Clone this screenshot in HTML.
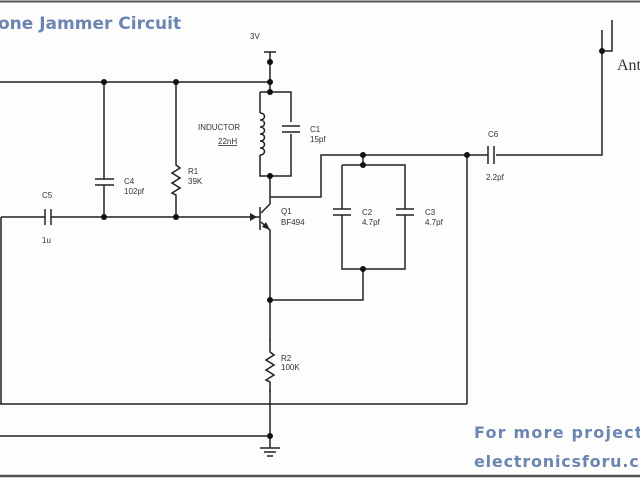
<!DOCTYPE html>
<html><head><style>
body{margin:0;background:#fdfdfb;}
svg{display:block}
.t{font-family:"Liberation Sans",sans-serif;font-size:8px;fill:#333}
.b{font-family:"DejaVu Sans",sans-serif;font-weight:bold;fill:#6b86b3}
</style></head><body>
<svg width="640" height="480" viewBox="0 0 640 480">
<rect width="640" height="480" fill="#fdfdfb"/>
<line x1="0" y1="1.5" x2="640" y2="1.5" stroke="#555" stroke-width="2"/>
<line x1="0" y1="476" x2="640" y2="476" stroke="#555" stroke-width="2.5"/>
<text class="b" x="-2" y="29" font-size="17">one Jammer Circuit</text>
<text class="b" x="474" y="438" font-size="16" letter-spacing="1.2">For more project</text>
<text class="b" x="474" y="467" font-size="16" letter-spacing="0.8">electronicsforu.co</text>
<g stroke="#222" stroke-width="1.5" fill="none">
<line x1="0" y1="82" x2="270" y2="82"/>
<line x1="1" y1="217" x2="1" y2="404"/>
<line x1="0" y1="404" x2="467" y2="404"/>
<line x1="467" y1="404" x2="467" y2="155"/>
<line x1="0" y1="436" x2="270" y2="436"/>
<line x1="1" y1="217" x2="45" y2="217"/>
<line x1="51" y1="217" x2="250" y2="217"/>
<line x1="45" y1="209" x2="45" y2="225"/>
<line x1="51" y1="209" x2="51" y2="225"/>
<line x1="104" y1="82" x2="104" y2="179"/>
<line x1="104" y1="185" x2="104" y2="217"/>
<line x1="95" y1="179" x2="114" y2="179"/>
<line x1="95" y1="185" x2="114" y2="185"/>
<path d="M176 82V165l4 3-8 5 8 5-8 5 8 5-8 5 4 2V217"/>
<path d="M250 217H260"/>
<path d="M260 207V230"/>
<path d="M261 213L270 204V176"/>
<path d="M261 222L270 230V436"/>
<line x1="264" y1="52" x2="276" y2="52"/>
<line x1="270" y1="52" x2="270" y2="92"/>
<path d="M260 92H291V122M291 134V176H260V155M260 113V92"/>
<path d="M260 113c6 0 6 7 0 7c6 0 6 7 0 7c6 0 6 7 0 7c6 0 6 7 0 7c6 0 6 7 0 7c6 0 6 7 0 7"/>
<line x1="282" y1="126" x2="300" y2="126"/>
<line x1="282" y1="132" x2="300" y2="132"/>
<path d="M270 197H321V155H488"/>
<path d="M496 155H602V30"/>
<line x1="488" y1="146" x2="488" y2="164"/>
<line x1="494" y1="146" x2="494" y2="164"/>
<path d="M602 51H612V20"/>
<path d="M363 155V165"/>
<path d="M342 165H405V209M405 215V269H342V215M342 209V165"/>
<line x1="333" y1="209" x2="351" y2="209"/>
<line x1="333" y1="215" x2="351" y2="215"/>
<line x1="396" y1="209" x2="414" y2="209"/>
<line x1="396" y1="215" x2="414" y2="215"/>
<path d="M363 269V300H270"/>
<line x1="260" y1="448" x2="280" y2="448"/>
<line x1="264" y1="452" x2="276" y2="452"/>
<line x1="267" y1="456" x2="273" y2="456"/>
</g>
<rect x="262" y="340" width="16" height="50" fill="#fdfdfb"/>
<path d="M270 339V352l4 3-8 5 8 5-8 5 8 5-8 5 4 2V392" stroke="#222" stroke-width="1.5" fill="none"/>
<line x1="270" y1="436" x2="270" y2="448" stroke="#222" stroke-width="1.5"/>
<path d="M250 213L257 217L250 221Z" fill="#222"/>
<path d="M270 230L262 227L266 222Z" fill="#222"/>
<g fill="#111">
<circle cx="104" cy="82" r="3"/><circle cx="176" cy="82" r="3"/><circle cx="270" cy="82" r="3"/>
<circle cx="270" cy="62" r="3"/><circle cx="270" cy="92" r="3"/><circle cx="270" cy="176" r="3"/>
<circle cx="104" cy="217" r="3"/><circle cx="176" cy="217" r="3"/>
<circle cx="363" cy="155" r="3"/><circle cx="363" cy="165" r="3"/><circle cx="467" cy="155" r="3"/>
<circle cx="363" cy="269" r="3"/><circle cx="270" cy="300" r="3"/><circle cx="270" cy="436" r="3"/>
<circle cx="602" cy="51" r="3"/>
</g>
<text class="t" x="250" y="39">3V</text>
<text class="t" x="198" y="130">INDUCTOR</text>
<text class="t" x="218" y="144" text-decoration="underline">22nH</text>
<text class="t" x="310" y="132">C1</text><text class="t" x="310" y="142">15pf</text>
<text class="t" x="124" y="184">C4</text><text class="t" x="124" y="194">102pf</text>
<text class="t" x="188" y="174">R1</text><text class="t" x="188" y="184">39K</text>
<text class="t" x="42" y="198">C5</text><text class="t" x="42" y="243">1u</text>
<text class="t" x="281" y="214">Q1</text><text class="t" x="281" y="225">BF494</text>
<text class="t" x="362" y="215">C2</text><text class="t" x="362" y="225">4.7pf</text>
<text class="t" x="425" y="215">C3</text><text class="t" x="425" y="225">4.7pf</text>
<text class="t" x="488" y="137">C6</text><text class="t" x="486" y="180">2.2pf</text>
<text class="t" x="281" y="361">R2</text><text class="t" x="281" y="370">100K</text>
<text x="617" y="70" font-family="Liberation Serif,serif" font-size="16" fill="#333">Ant</text>
</svg>
</body></html>
